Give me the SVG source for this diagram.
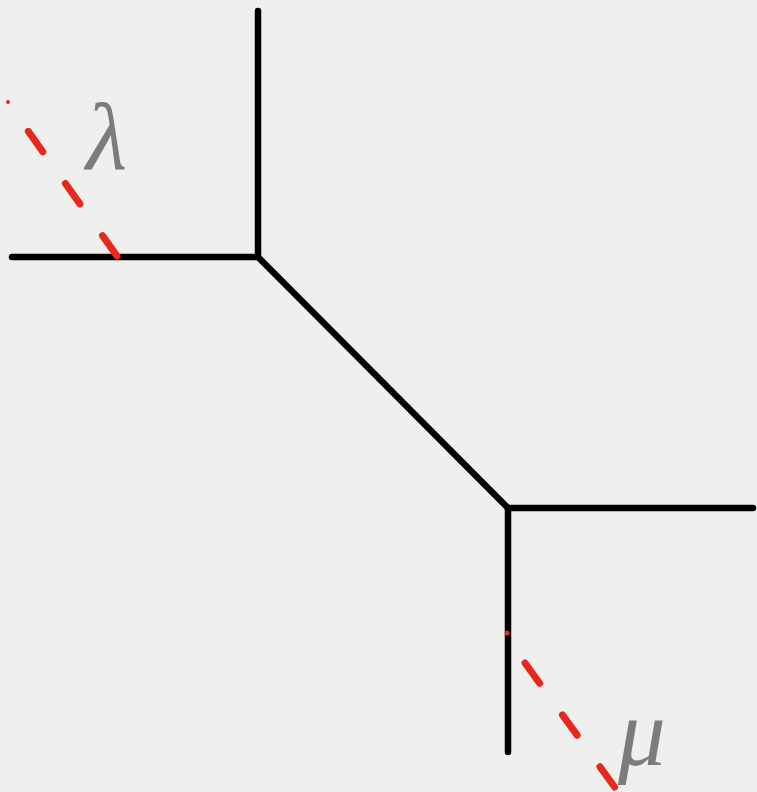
<svg xmlns="http://www.w3.org/2000/svg" width="757" height="792" viewBox="0 0 757 792">
<style>
.edge{stroke:#000;stroke-width:6.5;stroke-linecap:round;fill:none}
.dash{stroke:#e8281c;stroke-width:7;stroke-linecap:round;fill:none;stroke-dasharray:25 39}
.dot{fill:#e8281c}
.lbl{font-family:"Liberation Serif","DejaVu Serif",serif;font-style:italic;font-size:95px;fill:#7c7c7c}
</style>
<rect width="757" height="792" fill="#efefed"/>
<g id="connectors">
<line class="edge" x1="258" y1="11" x2="258" y2="257"/>
<line class="edge" x1="12" y1="257" x2="258" y2="257"/>
<line class="edge" x1="258" y1="257" x2="508" y2="508"/>
<line class="edge" x1="508" y1="508" x2="753" y2="508"/>
<line class="edge" x1="508" y1="508" x2="508" y2="752"/>
<path class="dash" d="M117,256 L6,100"/>
<circle class="dot" cx="8" cy="102" r="2"/>
<path class="dash" d="M525,663 L616,789"/>
<circle class="dot" cx="507" cy="633" r="2.5"/>
</g>
<g id="lambda"><text class="lbl" x="86" y="169">λ</text></g>
<g id="mu"><text class="lbl" x="618" y="765">μ</text></g>
</svg>
